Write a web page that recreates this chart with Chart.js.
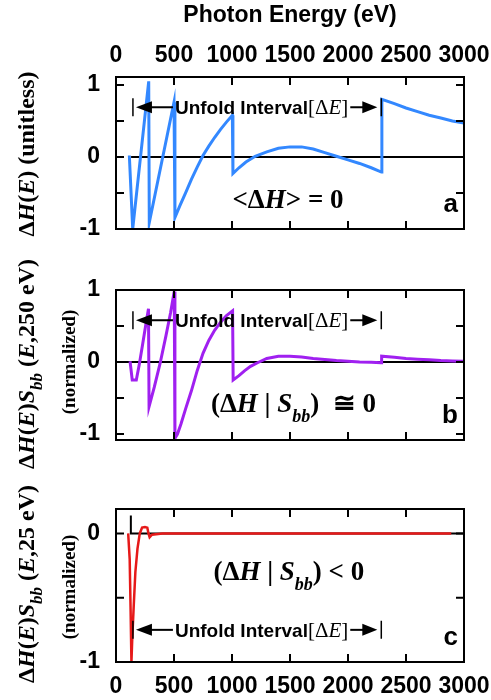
<!DOCTYPE html>
<html>
<head>
<meta charset="utf-8">
<script src="https://cdn.jsdelivr.net/npm/chart.js@4.4.0/dist/chart.umd.min.js"></script>
<style>
  body { margin: 0; background: #fff; }
  #wrap { position: relative; width: 491px; height: 700px; }
  #wrap canvas { position: absolute; left: 0; top: 0; }
</style>
</head>
<body>
<div id="wrap">
  <canvas id="panelA" width="491" height="700"></canvas>
  <canvas id="panelB" width="491" height="700"></canvas>
  <canvas id="panelC" width="491" height="700"></canvas>
</div>
<script>
const energyTicks = [0, 500, 1000, 1500, 2000, 2500, 3000];
const ticksAB = [-1, -0.5, 0, 0.5, 1];
const ticksC = [-1, -0.5, 0];
const unfoldEdges = [146, 2287];

// (a) Delta H(E)
const energyA = [115, 144, 282, 287, 500, 508, 550, 600, 650, 700, 750, 800, 850, 900, 950, 1003,
  1008, 1060, 1120, 1200, 1300, 1400, 1500, 1600, 1700, 1800, 1900, 2000, 2100, 2200, 2288,
  2292, 2400, 2500, 2600, 2700, 2800, 2900, 3000];
const deltaH = [0.02, -1.0, 1.05, -0.91, 0.76, -0.84, -0.68, -0.5, -0.31, -0.14, 0.02, 0.15, 0.27, 0.38, 0.48, 0.58,
  -0.23, -0.15, -0.07, 0.01, 0.07, 0.12, 0.14, 0.14, 0.11, 0.06, 0.01, -0.04, -0.09, -0.15, -0.21,
  0.8, 0.74, 0.68, 0.63, 0.58, 0.54, 0.5, 0.47];

// (b) Delta H(E) * S_bb(E, 250 eV)
const energyB = [121, 140, 175, 200, 230, 255, 280, 285, 330, 380, 430, 470, 502,
  508, 530, 560, 600, 650, 700, 750, 800, 850, 900, 950, 1005,
  1010, 1060, 1110, 1160, 1220, 1300, 1400, 1500, 1600, 1700, 1800, 1900, 2000, 2100, 2200, 2285,
  2290, 2400, 2500, 2600, 2700, 2800, 2900, 3000];
const deltaHS250 = [0.01, -0.25, -0.25, -0.04, 0.25, 0.5, 0.74, -0.62, -0.35, -0.02, 0.36, 0.68, 0.98,
  -1.06, -1.0, -0.86, -0.65, -0.4, -0.12, 0.12, 0.3, 0.44, 0.55, 0.64, 0.71,
  -0.25, -0.19, -0.12, -0.06, -0.01, 0.05, 0.08, 0.08, 0.07, 0.05, 0.035, 0.02, 0.01, 0.0, -0.005, -0.01,
  0.08, 0.065, 0.05, 0.04, 0.03, 0.02, 0.015, 0.01];

// (c) Delta H(E) * S_bb(E, 25 eV)
const energyC = [105, 118, 126, 133, 140, 153, 167, 185, 205, 225, 250, 270, 280, 290, 310, 400, 1000, 2000, 2890];
const deltaHS25 = [0, -0.2, -0.6, -1.0, -0.82, -0.56, -0.3, -0.12, 0, 0.045, 0.05, 0.045, 0, -0.03, -0.01, 0, 0, 0, 0];

const zeroA = [[130, 0], [3000, 0]];
const zeroB = [[0, 0], [3000, 0]];
const zeroC = [[128, 0.14], [128, 0], [3000, 0]];

const SERIF = '"Liberation Serif", "DejaVu Serif", serif';
const SANS = '"Liberation Sans", Arial, sans-serif';

function toPoints(xs, ys) { return xs.map((x, i) => ({ x: x, y: ys[i] })); }
function pairPoints(p) { return p.map(q => ({ x: q[0], y: q[1] })); }

// parts: [text, style, size, dy]
function drawRich(ctx, parts, x, y, align) {
  let w = 0;
  parts.forEach(p => { ctx.font = p[1] + ' ' + p[2] + 'px ' + SERIF; w += ctx.measureText(p[0]).width; });
  let cx = align === 'center' ? x - w / 2 : x;
  ctx.textAlign = 'left';
  ctx.textBaseline = 'alphabetic';
  parts.forEach(p => {
    ctx.font = p[1] + ' ' + p[2] + 'px ' + SERIF;
    ctx.fillText(p[0], cx, y + (p[3] || 0));
    cx += ctx.measureText(p[0]).width;
  });
  return w;
}

function arrowhead(ctx, tip, base, cy) {
  ctx.beginPath();
  ctx.moveTo(tip, cy);
  ctx.lineTo(base, cy - 6);
  ctx.lineTo(base, cy + 6);
  ctx.closePath();
  ctx.fill();
}

const bracketParts = [['[', '', 21], ['\u0394', '', 21], ['E', 'italic', 21], [']', '', 21]];

function drawUnfold(ctx, xs, cy) {
  const xl = xs.getPixelForValue(unfoldEdges[0]);
  const xr = xs.getPixelForValue(unfoldEdges[1]);
  ctx.lineWidth = 1.5;
  ctx.beginPath();
  ctx.moveTo(xl, cy - 9); ctx.lineTo(xl, cy + 9);
  ctx.moveTo(xr, cy - 9); ctx.lineTo(xr, cy + 9);
  ctx.stroke();
  ctx.lineWidth = 2;
  ctx.beginPath();
  ctx.moveTo(xl + 18, cy); ctx.lineTo(xl + 40, cy);
  ctx.stroke();
  arrowhead(ctx, xl + 3, xl + 19, cy);
  ctx.font = 'bold 19px ' + SANS;
  ctx.textAlign = 'left';
  ctx.textBaseline = 'alphabetic';
  let tx = xl + 42;
  ctx.fillText('Unfold Interval', tx, cy + 7);
  tx += ctx.measureText('Unfold Interval').width;
  tx += drawRich(ctx, bracketParts, tx, cy + 7, 'left');
  ctx.beginPath();
  ctx.moveTo(tx + 2, cy); ctx.lineTo(xr - 18, cy);
  ctx.stroke();
  arrowhead(ctx, xr - 4, xr - 19, cy);
}

const decor = {
  id: 'decor',
  afterDraw(chart, args, o) {
    const ctx = chart.ctx, a = chart.chartArea;
    const xs = chart.scales.x, ys = chart.scales.y;
    ctx.save();
    ctx.strokeStyle = '#000';
    ctx.fillStyle = '#000';
    ctx.lineWidth = 2;
    ctx.beginPath();
    energyTicks.forEach(v => {
      const px = xs.getPixelForValue(v);
      ctx.moveTo(px, a.top); ctx.lineTo(px, a.top + 8);
      ctx.moveTo(px, a.bottom); ctx.lineTo(px, a.bottom - 8);
    });
    o.yTicks.forEach(v => {
      const py = ys.getPixelForValue(v);
      ctx.moveTo(a.left, py); ctx.lineTo(a.left + 8, py);
      ctx.moveTo(a.right, py); ctx.lineTo(a.right - 8, py);
    });
    ctx.stroke();
    ctx.strokeRect(a.left, a.top, a.right - a.left, a.bottom - a.top);

    ctx.save();
    ctx.translate(34, o.titleY);
    ctx.rotate(-Math.PI / 2);
    drawRich(ctx, o.title, 0, 0, 'center');
    ctx.restore();
    if (o.note) {
      ctx.save();
      ctx.translate(75, o.noteY);
      ctx.rotate(-Math.PI / 2);
      drawRich(ctx, o.note, 0, 0, 'center');
      ctx.restore();
    }

    drawRich(ctx, o.math, xs.getPixelForValue(o.mathAt[0]), ys.getPixelForValue(o.mathAt[1]), 'center');
    drawUnfold(ctx, xs, ys.getPixelForValue(o.unfoldLevel));

    ctx.font = 'bold 26px ' + SANS;
    ctx.textAlign = 'right';
    ctx.textBaseline = 'alphabetic';
    ctx.fillText(o.letter, a.right - 6, a.bottom - 17);
    ctx.restore();
  }
};

const tickFont = { family: SANS, size: 23, weight: 'bold' };

function noPad(s) { s.paddingLeft = 0; s.paddingRight = 0; s.paddingTop = 0; s.paddingBottom = 0; }

function makePanel(id, p) {
  new Chart(document.getElementById(id), {
    type: 'line',
    data: {
      datasets: [
        { data: p.points, borderColor: p.color, borderWidth: p.width, pointRadius: 0, tension: 0, fill: false },
        { data: p.zero, borderColor: '#000', borderWidth: 2, pointRadius: 0, tension: 0, fill: false }
      ]
    },
    options: {
      responsive: false,
      animation: false,
      devicePixelRatio: 1,
      layout: { padding: { top: p.padTop, right: 27, bottom: p.padBottom, left: 0 } },
      plugins: { legend: { display: false }, tooltip: { enabled: false }, decor: p.decor },
      scales: {
        x: {
          type: 'linear',
          position: p.xPos,
          display: p.xShow,
          min: 0,
          max: 3000,
          afterBuildTicks: s => { s.ticks = energyTicks.map(v => ({ value: v })); },
          afterFit: s => { s.height = p.xHeight; noPad(s); },
          grid: { display: false, drawTicks: false },
          border: { display: false },
          ticks: {
            font: tickFont, color: '#000', padding: p.xPad, maxRotation: 0, autoSkip: false,
            callback: v => String(v)
          },
          title: p.xTitle
        },
        y: {
          type: 'linear',
          min: p.yMin,
          max: p.yMax,
          afterBuildTicks: s => { s.ticks = p.yTicks.map(v => ({ value: v })); },
          afterFit: s => { s.width = 116; noPad(s); },
          grid: { display: false, drawTicks: false },
          border: { display: false },
          ticks: {
            font: tickFont, color: '#000', padding: 16,
            callback: v => Number.isInteger(v) ? String(v) : ''
          }
        }
      }
    },
    plugins: [decor]
  });
}

const B = 'bold', BI = 'italic bold';

makePanel('panelA', {
  points: toPoints(energyA, deltaH), color: '#3388ff', width: 3, zero: pairPoints(zeroA),
  padTop: 0, padBottom: 471, xPos: 'top', xShow: true, xHeight: 77, xPad: 8,
  xTitle: { display: true, text: 'Photon Energy (eV)', color: '#000', font: { family: SANS, size: 23, weight: 'bold' }, padding: { top: 2, bottom: 0 } },
  yMin: -1, yMax: 1.11, yTicks: ticksAB,
  decor: {
    yTicks: ticksAB, titleY: 154,
    title: [['\u0394', B, 24], ['H', BI, 24], ['(', B, 24], ['E', BI, 24], [')', B, 24], [' (unitless)', B, 24]],
    math: [['<', B, 27], ['\u0394', B, 27], ['H', BI, 27], ['> = 0', B, 27]], mathAt: [1483, -0.71],
    unfoldLevel: 0.69, letter: 'a'
  }
});

makePanel('panelB', {
  points: toPoints(energyB, deltaHS250), color: '#a020f0', width: 3, zero: pairPoints(zeroB),
  padTop: 290, padBottom: 260, xPos: 'bottom', xShow: false, xHeight: 0, xPad: 0,
  xTitle: { display: false },
  yMin: -1.083, yMax: 1, yTicks: ticksAB,
  decor: {
    yTicks: ticksAB, titleY: 364, noteY: 362,
    title: [['\u0394', B, 24], ['H', BI, 24], ['(', B, 24], ['E', BI, 24], [')', B, 24], ['S', BI, 24], ['bb', BI, 17, 8],
      [' (', B, 24], ['E', BI, 24], [',250 eV)', B, 24]],
    note: [['(normalized)', B, 19]],
    math: [['(', B, 27], ['\u0394', B, 27], ['H', BI, 27], [' | ', B, 27], ['S', BI, 27], ['bb', BI, 18, 10], [')', B, 27], ['  \u2245 0', B, 27]],
    mathAt: [1530, -0.69],
    unfoldLevel: 0.58, letter: 'b'
  }
});

makePanel('panelC', {
  points: toPoints(energyC, deltaHS25), color: '#e61919', width: 2.5, zero: pairPoints(zeroC),
  padTop: 509, padBottom: 0, xPos: 'bottom', xShow: true, xHeight: 38, xPad: 11,
  xTitle: { display: false },
  yMin: -1, yMax: 0.19, yTicks: ticksC,
  decor: {
    yTicks: ticksC, titleY: 584, noteY: 587,
    title: [['\u0394', B, 24], ['H', BI, 24], ['(', B, 24], ['E', BI, 24], [')', B, 24], ['S', BI, 24], ['bb', BI, 17, 8],
      [' (', B, 24], ['E', BI, 24], [',25 eV)', B, 24]],
    note: [['(normalized)', B, 19]],
    math: [['(', B, 27], ['\u0394', B, 27], ['H', BI, 27], [' | ', B, 27], ['S', BI, 27], ['bb', BI, 18, 10], [') < 0', B, 27]],
    mathAt: [1490, -0.364],
    unfoldLevel: -0.75, letter: 'c'
  }
});
</script>
</body>
</html>
